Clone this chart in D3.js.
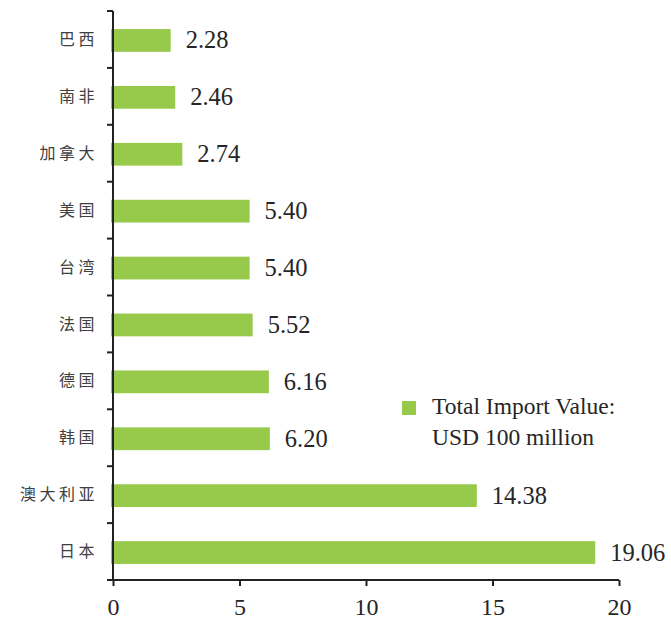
<!DOCTYPE html>
<html><head><meta charset="utf-8">
<script src="https://cdn.jsdelivr.net/npm/d3@7"></script>
<style>
html,body{margin:0;padding:0;background:#fff;}
svg{display:block;}
.serif{font-family:"Liberation Serif","Times New Roman",Times,"DejaVu Serif",serif;}
.cjk{font-family:"Noto Sans CJK SC","Noto Sans",sans-serif;}
</style></head>
<body>
<svg id="chart" width="671" height="621"></svg>
<script>
const categories = ["巴西","南非","加拿大","美国","台湾","法国","德国","韩国","澳大利亚","日本"];
const values = [2.28, 2.46, 2.74, 5.40, 5.40, 5.52, 6.16, 6.20, 14.38, 19.06];
const valueLabels = ["2.28","2.46","2.74","5.40","5.40","5.52","6.16","6.20","14.38","19.06"];
const xTicks = [0, 5, 10, 15, 20];
const legendLines = ["Total Import Value:", "USD 100 million"];

(function () {
const svg = d3.select("#chart");
const mLeft = 113, mRight = 619, mTop = 11, mBottom = 580;
const green = "#97c94b";

const x = d3.scaleLinear().domain([0, 20]).range([mLeft, mRight]);
const y = d3.scaleBand().domain(categories).range([mTop, mBottom]).paddingInner(0.6).paddingOuter(0.3);

// bars
svg.append("g").selectAll("rect").data(categories).join("rect")
  .attr("x", x(0) - 2)
  .attr("y", d => y(d) + 1)
  .attr("width", (d, i) => x(values[i]) - x(0) + 2)
  .attr("height", y.bandwidth())
  .attr("fill", green);

// value labels
svg.append("g").selectAll("text").data(categories).join("text")
  .attr("class", "serif")
  .attr("x", (d, i) => x(values[i]) + 15)
  .attr("y", d => y(d) + 1 + y.bandwidth() / 2 + 8)
  .attr("font-size", 24.5)
  .attr("fill", "#262626")
  .text((d, i) => valueLabels[i]);

// y axis labels
const yAxis = d3.axisLeft(y).tickSize(0).tickPadding(15);
const gy = svg.append("g").attr("transform", `translate(${mLeft},0)`).call(yAxis)
  .attr("font-family", null);
gy.select(".domain").remove();
gy.selectAll("text")
  .attr("class", "cjk")
  .attr("font-size", 16)
  .attr("letter-spacing", "3.5px")
  .attr("fill", "#404040")
  .attr("dy", "0.35em");

// y axis line and boundary ticks
const step = y.step();
const boundaries = d3.range(categories.length + 1).map(i => mTop + i * step);
svg.append("line").attr("x1", mLeft).attr("x2", mLeft).attr("y1", mTop).attr("y2", mBottom)
  .attr("stroke", "#222").attr("stroke-width", 2);
svg.append("g").selectAll("line").data(boundaries).join("line")
  .attr("x1", mLeft - 6).attr("x2", mLeft).attr("y1", d => d).attr("y2", d => d)
  .attr("stroke", "#222").attr("stroke-width", 2);

// x axis
const xAxis = d3.axisBottom(x).tickValues(xTicks).tickSize(6).tickPadding(12).tickSizeOuter(0);
const gx = svg.append("g").attr("transform", `translate(0,${mBottom})`).call(xAxis)
  .attr("font-family", null).attr("font-size", null);
gx.select(".domain").attr("stroke", "#222").attr("stroke-width", 2)
  .attr("d", `M${mLeft - 6},0H${mRight}`);
gx.selectAll(".tick line").attr("stroke", "#222").attr("stroke-width", 2);
gx.selectAll("text").attr("class", "serif").attr("font-size", 24).attr("fill", "#262626");

// legend
svg.append("rect").attr("x", 402).attr("y", 401).attr("width", 14).attr("height", 14).attr("fill", green);
svg.append("g").selectAll("text").data(legendLines).join("text")
  .attr("class", "serif")
  .attr("x", 432).attr("y", (d, i) => 414 + i * 31)
  .attr("font-size", 23.5).attr("fill", "#262626")
  .text(d => d);
})();
</script>
</body></html>
